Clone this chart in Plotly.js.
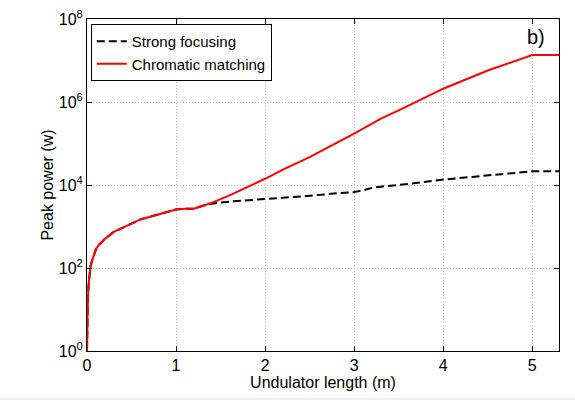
<!DOCTYPE html>
<html>
<head>
<meta charset="utf-8">
<script src="https://cdn.plot.ly/plotly-3.0.1.min.js"></script>
<style>html,body{margin:0;padding:0;background:#fff;}#chart{width:575px;height:400px;}</style>
</head>
<body>
<div id="chart"></div>
<script>
// Undulator length (m) and peak power (W)
var xStrong = [0, 0.005, 0.01, 0.02, 0.04, 0.06, 0.08, 0.1, 0.13, 0.2, 0.3, 0.4, 0.5, 0.6, 0.7, 0.8, 0.9, 1.0, 1.1, 1.2, 1.3, 1.4,
               1.6, 1.8, 2.0, 2.2, 2.5, 2.8, 3.0, 3.1, 3.2, 3.3, 3.5, 4.0, 4.5, 5.0, 5.3];
var yStrong = [1, 6.3, 17.8, 44.7, 112, 158, 214, 282, 355, 501, 741, 955, 1175, 1479, 1698, 1950, 2239, 2570, 2692, 2692, 3162, 3548,
               3981, 4266, 4571, 4786, 5495, 6310, 6761, 7413, 8511, 9120, 10000, 13490, 16982, 21380, 21380];

var xChrom = [0, 0.005, 0.01, 0.02, 0.04, 0.06, 0.08, 0.1, 0.13, 0.2, 0.3, 0.4, 0.5, 0.6, 0.7, 0.8, 0.9, 1.0, 1.1, 1.2, 1.3, 1.4,
              1.5, 1.6, 1.8, 2.0, 2.2, 2.5, 3.0, 3.3, 3.5, 4.0, 4.5, 5.0, 5.3];
var yChrom = [1, 6.3, 17.8, 44.7, 112, 158, 214, 282, 355, 501, 741, 955, 1175, 1479, 1698, 1950, 2239, 2570, 2692, 2692, 3162, 3715,
              4571, 5623, 8913, 14125, 23442, 46774, 173780, 398107, 630957, 2089296, 5754399, 13489629, 13489629];

var xTickVals = [0, 1, 2, 3, 4, 5];
var yTickVals = [1, 1e2, 1e4, 1e6, 1e8];
var yTickText = ['10<sup>0</sup>', '10<sup>2</sup>', '10<sup>4</sup>', '10<sup>6</sup>', '10<sup>8</sup>'];

var FONT = 'Liberation Sans, Arial, Helvetica, sans-serif';

var traces = [
  {x: xStrong, y: yStrong, type: 'scatter', mode: 'lines', name: 'Strong focusing',
   line: {color: '#000000', width: 2, dash: '8px,4px'}},
  {x: xChrom, y: yChrom, type: 'scatter', mode: 'lines', name: 'Chromatic matching',
   line: {color: '#ff0000', width: 2}}
];

var axisCommon = {
  showline: true, linecolor: '#000', linewidth: 1, mirror: 'ticks',
  ticks: 'inside', ticklen: 5, tickwidth: 1, tickcolor: '#000',
  showgrid: true, gridcolor: '#bbbbbb', gridwidth: 1, griddash: '1px,2px',
  zeroline: false, tickfont: {family: FONT, size: 16, color: '#000'}
};

var layout = {
  width: 575, height: 400,
  margin: {l: 87, r: 16, t: 19, b: 49},
  paper_bgcolor: '#ffffff', plot_bgcolor: '#ffffff',
  font: {family: FONT, size: 16, color: '#000'},
  showlegend: true,
  legend: {x: 0.008, y: 0.985, xanchor: 'left', yanchor: 'top',
           bgcolor: '#ffffff', bordercolor: '#000', borderwidth: 1,
           font: {family: FONT, size: 15, color: '#000'}, tracegroupgap: 0},
  xaxis: Object.assign({}, axisCommon, {
    range: [0, 5.3], tickmode: 'array', tickvals: xTickVals,
    title: {text: 'Undulator length (m)', font: {family: FONT, size: 16}, standoff: 0}
  }),
  yaxis: Object.assign({}, axisCommon, {
    type: 'log', range: [0, 8], tickmode: 'array', tickvals: yTickVals, ticktext: yTickText,
    title: {text: 'Peak power (w)', font: {family: FONT, size: 16}, standoff: 1}
  }),
  annotations: [
    {text: 'b)', xref: 'paper', yref: 'paper', x: 0.951, y: 0.946, xanchor: 'center', yanchor: 'middle',
     showarrow: false, font: {family: FONT, size: 20, color: '#000'}}
  ],
  shapes: [
    {type: 'rect', xref: 'paper', yref: 'paper', x0: -0.2, x1: 1.1, y0: -0.1476, y1: -0.1416,
     fillcolor: '#eeeeee', line: {width: 0}, layer: 'below'}
  ]
};

Plotly.newPlot('chart', traces, layout, {displayModeBar: false, staticPlot: true});
</script>
</body>
</html>
